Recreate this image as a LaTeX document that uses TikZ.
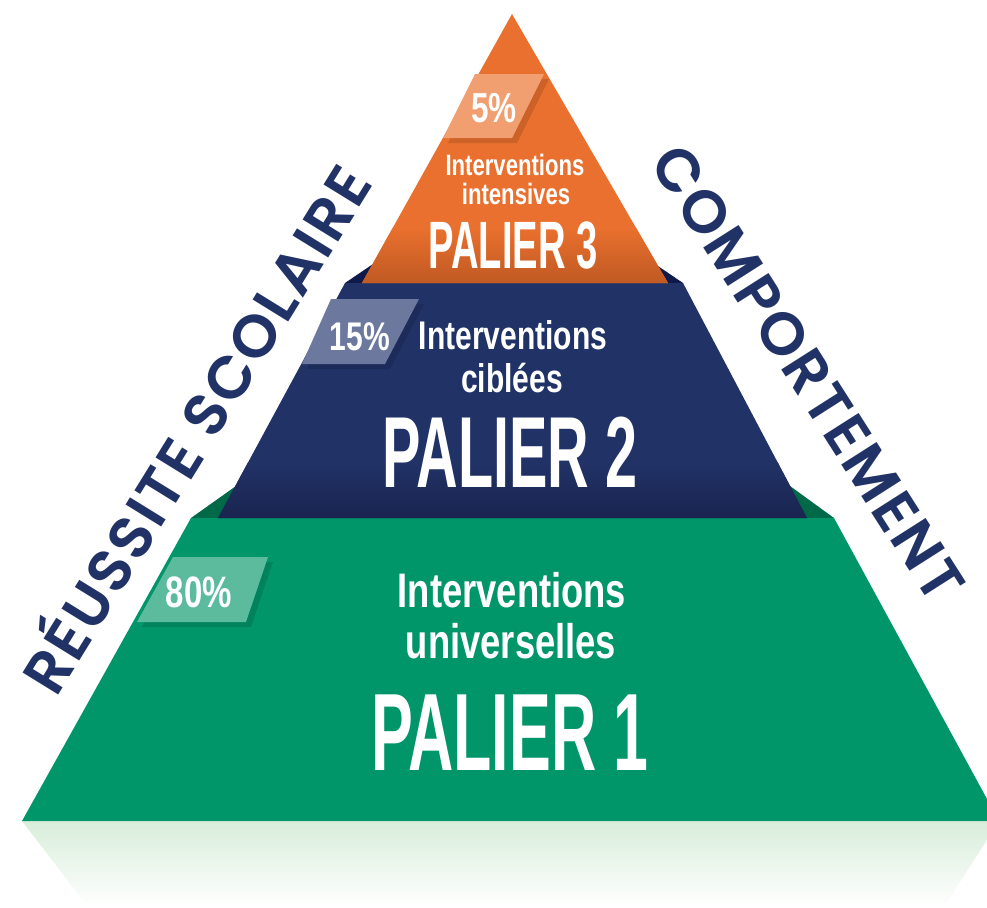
\documentclass[tikz,border=0pt]{standalone}
\usepackage{fontspec}
\newfontfamily\condfont[FakeStretch=0.75]{Liberation Sans}
\newfontfamily\compfont[FakeStretch=0.57]{Liberation Sans}
\newfontfamily\sidefont[BoldFont={Poppins SemiBold},LetterSpace=4]{Poppins}
\definecolor{orangetier}{HTML}{E9702E}
\definecolor{orangedark}{HTML}{BF5923}
\definecolor{navytier}{HTML}{213266}
\definecolor{navydark}{HTML}{1A244F}
\definecolor{navyback}{HTML}{0F1A4A}
\definecolor{greentier}{HTML}{00966A}
\definecolor{greenback}{HTML}{006A48}
\definecolor{tagfive}{HTML}{F19F70}
\definecolor{tagfifteen}{HTML}{6C789E}
\definecolor{tageighty}{HTML}{5CBB9D}
\definecolor{floorgreen}{HTML}{D8EDDA}
\begin{document}
\begin{tikzpicture}[x=1pt,y=-1pt,
    tiertext/.style={anchor=base,text=white,inner sep=0pt},
    sidelabel/.style={text=navytier,inner sep=0pt,font=\sidefont\bfseries\fontsize{60}{60}\selectfont},
    tagshadow/.style={fill=black,opacity=0.12}]
  \useasboundingbox (0,0) rectangle (987,907);
  % floor reflection
  \shade[top color=floorgreen,bottom color=white] (22,821) -- (999,821) -- (944,907) -- (88,907) -- cycle;
  % back faces
  \fill[greenback] (191,518) -- (236,486) -- (790,486) -- (834,518) -- cycle;
  \fill[navyback] (345,283) -- (376,262) -- (652,262) -- (683,283) -- cycle;
  % tiers
  \fill[greentier] (191,518) -- (834,518) -- (999,821) -- (22,821) -- cycle;
  \begin{scope}
    \clip (345,283) -- (683,283) -- (807,518) -- (218,518) -- cycle;
    \fill[navytier] (200,280) rectangle (830,520);
    \shade[top color=navytier,bottom color=navydark] (200,462) rectangle (830,519);
  \end{scope}
  \begin{scope}
    \clip (512,14) -- (668,283) -- (362,283) -- cycle;
    \fill[orangetier] (350,10) rectangle (680,285);
    \shade[top color=orangetier,bottom color=orangedark] (350,228) rectangle (680,284);
  \end{scope}
  % tags
  \fill[tagshadow] (480,79) -- (549,79) -- (517,143) -- (448,143) -- cycle;
  \fill[tagfive] (475,74) -- (544,74) -- (512,138) -- (443,138) -- cycle;
  \fill[tagshadow] (336,304) -- (424,304) -- (390,369) -- (307,369) -- cycle;
  \fill[tagfifteen] (331,299) -- (419,299) -- (385,364) -- (302,364) -- cycle;
  \fill[tagshadow] (178,562) -- (273,562) -- (251,627) -- (142,627) -- cycle;
  \fill[tageighty] (173,557) -- (268,557) -- (246,622) -- (137,622) -- cycle;
  % percentages
  \node[tiertext,font=\condfont\bfseries\fontsize{42}{42}\selectfont] (p3) at (494,122) {5\%};
  \node[tiertext,font=\condfont\bfseries\fontsize{40}{40}\selectfont] (p2) at (360,350) {15\%};
  \node[tiertext,font=\condfont\bfseries\fontsize{44}{44}\selectfont] (p1) at (199,607) {80\%};
  % palier 3
  \node[tiertext,font=\condfont\bfseries\fontsize{29.5}{29.5}\selectfont] (i3) at (515,175) {Interventions};
  \node[tiertext,font=\condfont\bfseries\fontsize{29.5}{29.5}\selectfont] (d3) at (516,204) {intensives};
  \node[tiertext,font=\compfont\bfseries\fontsize{67}{67}\selectfont] (t3) at (513,268) {PALIER 3};
  % palier 2
  \node[tiertext,font=\condfont\bfseries\fontsize{40}{40}\selectfont] (i2) at (513,349) {Interventions};
  \node[tiertext,font=\condfont\bfseries\fontsize{40}{40}\selectfont] (d2) at (512,392) {ciblées};
  \node[tiertext,font=\compfont\bfseries\fontsize{101}{101}\selectfont] (t2) at (510,487) {PALIER 2};
  % palier 1
  \node[tiertext,font=\condfont\bfseries\fontsize{48.5}{48.5}\selectfont] (i1) at (512,607) {Interventions};
  \node[tiertext,font=\condfont\bfseries\fontsize{48.5}{48.5}\selectfont] (d1) at (511,658) {universelles};
  \node[tiertext,font=\compfont\bfseries\fontsize{110}{110}\selectfont] (t1) at (510,770) {PALIER 1};
  % side labels
  \node[sidelabel,rotate=58.3] (left) at (191,426) {RÉUSSITE SCOLAIRE};
  \node[sidelabel,rotate=-57.5] (right) at (808,373) {COMPORTEMENT};
\end{tikzpicture}
\end{document}
